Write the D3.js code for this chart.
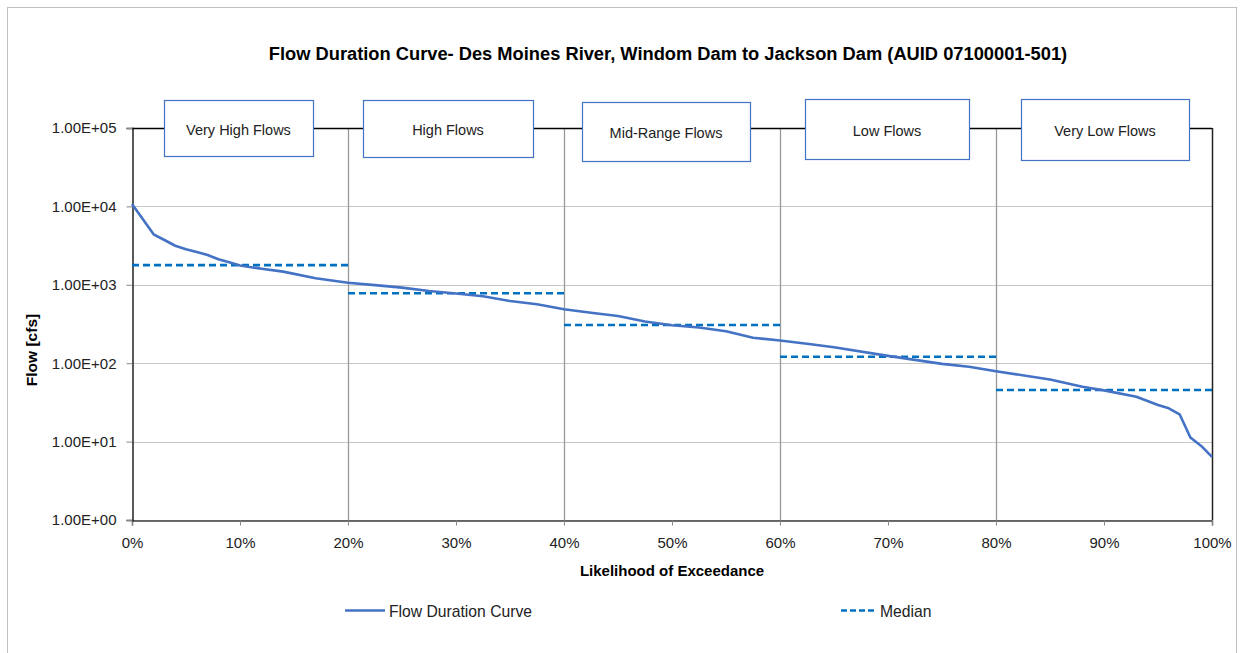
<!DOCTYPE html>
<html>
<head>
<meta charset="utf-8">
<script src="https://cdn.jsdelivr.net/npm/d3@7"></script>
<style>
  body { margin: 0; background: #fff; }
  svg { display: block; font-family: "Liberation Sans", Arial, sans-serif; }
</style>
</head>
<body>
<svg id="chart" width="1244" height="653"></svg>
<script>
// Exceedance probability (%) and flow (cfs) for the duration curve
const exceedance = [0, 2, 3, 4, 5, 6, 7, 8, 9, 10, 12, 14, 17, 20, 22.5, 25, 27.5, 30, 32.5, 35, 37.5, 40, 42.5, 45, 47.5, 50, 52.5, 55, 57.5, 60, 62.5, 65, 70, 75, 77.5, 80, 85, 88, 90, 93, 95, 96, 97, 98, 99, 100];
const flow = [10700, 4400, 3725, 3150, 2840, 2620, 2400, 2113, 1936, 1760, 1600, 1473, 1210, 1064, 990, 920, 833, 775, 715, 620, 564, 487, 440, 400, 340, 305, 285, 255, 211, 195, 177, 160, 124, 98, 90, 79, 62, 50, 45, 37.4, 29.3, 26.6, 22.3, 11.3, 8.8, 6.4];

// Flow regime zones and the median flow within each
const zoneNames = ["Very High Flows", "High Flows", "Mid-Range Flows", "Low Flows", "Very Low Flows"];
const zoneStart = [0, 20, 40, 60, 80];
const zoneEnd = [20, 40, 60, 80, 100];
const zoneMedian = [1780, 780, 307, 121, 45.5];

const yTicks = [1, 10, 100, 1000, 10000, 100000];
const xTicks = [0, 10, 20, 30, 40, 50, 60, 70, 80, 90, 100];

const svg = d3.select("#chart");
const m = { left: 132, right: 1212, top: 128, bottom: 520 };

const x = d3.scaleLinear().domain([0, 100]).range([m.left, m.right]);
const y = d3.scaleLog().domain([1, 100000]).range([m.bottom, m.top]);

// outer chart frame
svg.append("rect").attr("x", 7.5).attr("y", 7.5).attr("width", 1229).attr("height", 670)
  .attr("fill", "none").attr("stroke", "#BFBFBF").attr("stroke-width", 1);

// title
svg.append("text").attr("x", 668).attr("y", 60).attr("text-anchor", "middle")
  .attr("font-size", 18.3).attr("font-weight", "bold").attr("fill", "#000")
  .text("Flow Duration Curve- Des Moines River, Windom Dam to Jackson Dam (AUID 07100001-501)");

// horizontal grid
svg.append("g").selectAll("line").data(yTicks).join("line")
  .attr("x1", m.left).attr("x2", m.right)
  .attr("y1", d => Math.round(y(d)) + 0.5).attr("y2", d => Math.round(y(d)) + 0.5)
  .attr("stroke", "#C8C8C8").attr("stroke-width", 1.2);

// zone dividers
svg.append("g").selectAll("line").data(zoneStart.slice(1)).join("line")
  .attr("x1", d => Math.round(x(d)) + 0.5).attr("x2", d => Math.round(x(d)) + 0.5)
  .attr("y1", m.top).attr("y2", m.bottom)
  .attr("stroke", "#999").attr("stroke-width", 1.3);

// frame: top and right
svg.append("line").attr("x1", m.left).attr("x2", m.right).attr("y1", m.top + 0.5).attr("y2", m.top + 0.5)
  .attr("stroke", "#000").attr("stroke-width", 1.3);
svg.append("line").attr("x1", m.right + 0.5).attr("x2", m.right + 0.5).attr("y1", m.top).attr("y2", m.bottom)
  .attr("stroke", "#222").attr("stroke-width", 1.5);

// axes
const xAxis = d3.axisBottom(x).tickValues(xTicks).tickFormat(d => d + "%").tickSize(5).tickPadding(12);
const gx = svg.append("g").attr("transform", `translate(0,${m.bottom + 0.5})`).call(xAxis);
gx.select(".domain").attr("stroke", "#404040").attr("stroke-width", 1.5);
gx.selectAll(".tick line").attr("stroke", "#888");
gx.selectAll("text").attr("font-size", 15).attr("fill", "#222").attr("font-family", "Liberation Sans, Arial, sans-serif");

const sci = d => {
  const e = Math.round(Math.log10(d));
  return (d / Math.pow(10, e)).toFixed(2) + "E+" + String(e).padStart(2, "0");
};
const yAxis = d3.axisLeft(y).tickValues(yTicks).tickFormat(sci).tickSize(6).tickPadding(10);
const gy = svg.append("g").attr("transform", `translate(${m.left + 0.5},0)`).call(yAxis);
gy.select(".domain").attr("stroke", "#000").attr("stroke-width", 1.3);
gy.selectAll(".tick line").attr("stroke", "#888");
gy.selectAll("text").attr("font-size", 15).attr("fill", "#222").attr("font-family", "Liberation Sans, Arial, sans-serif");

// axis titles
svg.append("text").attr("transform", "translate(37,350) rotate(-90)").attr("text-anchor", "middle")
  .attr("font-size", 15.5).attr("font-weight", "bold").text("Flow [cfs]");
svg.append("text").attr("x", 672).attr("y", 576).attr("text-anchor", "middle")
  .attr("font-size", 15).attr("font-weight", "bold").text("Likelihood of Exceedance");

// medians per zone
svg.append("g").selectAll("line").data(zoneMedian).join("line")
  .attr("x1", (d, i) => x(zoneStart[i])).attr("x2", (d, i) => x(zoneEnd[i]))
  .attr("y1", d => y(d)).attr("y2", d => y(d))
  .attr("stroke", "#0070C0").attr("stroke-width", 2.6).attr("stroke-dasharray", "7,4");

// duration curve
const line = d3.line().x(d => x(d[0])).y(d => y(d[1]));
svg.append("path").datum(exceedance.map((e, i) => [e, flow[i]]))
  .attr("d", line).attr("fill", "none").attr("stroke", "#4472C4").attr("stroke-width", 2.6)
  .attr("stroke-linejoin", "round");

// zone label boxes
const boxes = [
  { x: 164, y: 100, w: 149, h: 56 },
  { x: 363, y: 100, w: 170, h: 57 },
  { x: 582, y: 102, w: 168, h: 59 },
  { x: 805, y: 99, w: 164, h: 60 },
  { x: 1021, y: 99, w: 168, h: 61 }
];
const gb = svg.append("g").selectAll("g").data(zoneNames).join("g");
gb.append("rect").attr("x", (d, i) => boxes[i].x + 0.5).attr("y", (d, i) => boxes[i].y + 0.5)
  .attr("width", (d, i) => boxes[i].w).attr("height", (d, i) => boxes[i].h)
  .attr("fill", "#fff").attr("stroke", "#4472C4").attr("stroke-width", 1.2);
gb.append("text").attr("x", (d, i) => boxes[i].x + boxes[i].w / 2)
  .attr("y", (d, i) => boxes[i].y + boxes[i].h / 2 + 6.5)
  .attr("text-anchor", "middle").attr("font-size", 14.5).attr("fill", "#222").text(d => d);

// legend
const lg = svg.append("g");
lg.append("line").attr("x1", 345).attr("x2", 385).attr("y1", 610.5).attr("y2", 610.5)
  .attr("stroke", "#4472C4").attr("stroke-width", 2.6);
lg.append("text").attr("x", 389).attr("y", 617).attr("font-size", 15.7).attr("fill", "#222").text("Flow Duration Curve");
lg.append("line").attr("x1", 841).attr("x2", 877).attr("y1", 610.5).attr("y2", 610.5)
  .attr("stroke", "#0070C0").attr("stroke-width", 2.6).attr("stroke-dasharray", "6,3");
lg.append("text").attr("x", 880).attr("y", 617).attr("font-size", 15.7).attr("fill", "#222").text("Median");
</script>
</body>
</html>
